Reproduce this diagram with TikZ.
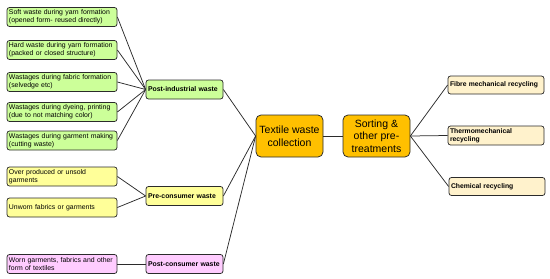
\documentclass[tikz,border=0pt]{standalone}
\usepackage{fontspec}
\setmainfont{Liberation Sans}
\usepackage{tikz}
\usetikzlibrary{positioning}
\definecolor{wgreen}{HTML}{CCFF99}
\definecolor{wyellow}{HTML}{FFFF99}
\definecolor{wpink}{HTML}{FFCCFF}
\definecolor{worange}{HTML}{FFC000}
\definecolor{wcream}{HTML}{FFF2CC}
\definecolor{wline}{HTML}{2B2B2B}
\hyphenpenalty=10000

\begin{document}
\begin{tikzpicture}[x=1pt, y=-1pt,
  box/.style={draw=wline, rounded corners=2.5pt, line width=0.75pt,
              minimum height=19pt, inner xsep=2pt, inner ysep=2pt, align=left,
              font=\fontsize{6.9}{8.2}\selectfont},
  src/.style={box, text width=106pt, minimum width=110pt},
  cat/.style={box, font=\fontsize{6.9}{8}\selectfont\bfseries,
              text width=73pt, minimum width=77pt},
  hub/.style={draw=wline, rounded corners=5pt, line width=0.75pt, fill=worange,
              minimum width=67pt, minimum height=42pt, align=center,
              font=\fontsize{10.5}{12.5}\selectfont},
  route/.style={box, fill=wcream, font=\fontsize{6.8}{8}\selectfont\bfseries,
                text width=92pt, minimum width=96pt, minimum height=18pt},
  link/.style={draw=wline, line width=0.75pt},
]
  \useasboundingbox (0,0) rectangle (550,279);

  % Post-industrial sources.
  \node[src, fill=wgreen] (soft) at (62,17)
    {Soft waste during yarn formation\\(opened form- reused directly)};
  \node[src, fill=wgreen] (hard) at (62,50)
    {Hard waste during yarn formation\\(packed or closed structure)};
  \node[src, fill=wgreen] (fabric) at (62,82)
    {Wastages during fabric formation\\(selvedge etc)};
  \node[src, fill=wgreen] (dyeing) at (62,112)
    {Wastages during dyeing, printing\\(due to not matching color)};
  \node[src, fill=wgreen] (garment) at (62,140.5)
    {Wastages during garment making\\(cutting waste)};
  \node[cat, fill=wgreen] (post-ind) at (184.5,89.5) {Post-industrial waste};
  \draw[link] (soft.east) -- (post-ind.west);
  \draw[link] (hard.east) -- (post-ind.west);
  \draw[link] (fabric.east) -- (post-ind.west);
  \draw[link] (dyeing.east) -- (post-ind.west);
  \draw[link] (garment.east) -- (post-ind.west);

  % Pre-consumer sources.
  \node[src, fill=wyellow] (unsold) at (62,176.5)
    {Over produced or unsold\\garments};
  \node[src, fill=wyellow] (unworn) at (62,207.5) {Unworn fabrics or garments};
  \node[cat, fill=wyellow] (pre-con) at (184.5,196) {Pre-consumer waste};
  \draw[link] (unsold.east) -- (pre-con.west);
  \draw[link] (unworn.east) -- (pre-con.west);

  % Post-consumer sources.
  \node[src, fill=wpink] (worn) at (62,264)
    {Worn garments, fabrics and other\\form of textiles};
  \node[cat, fill=wpink] (post-con) at (184.5,264) {Post-consumer waste};
  \draw[link] (worn.east) -- (post-con.west);

  % Collection and sorting.
  \node[hub] (collect) at (289.5,136) {Textile waste\\collection};
  \node[hub] (sorting) at (376.5,136) {Sorting \&\\other pre-\\treatments};
  \draw[link] (post-ind.east) -- (collect.west);
  \draw[link] (pre-con.east) -- (collect.west);
  \draw[link] (post-con.east) -- (collect.west);
  \draw[link] (collect.east) -- (sorting.west);

  % Recycling routes.
  \node[route] (fibre) at (496,85) {Fibre mechanical recycling};
  \node[route, minimum height=19pt] (thermo) at (496,135.5)
    {Thermomechanical\\recycling};
  \node[route] (chemical) at (497,186.5) {Chemical recycling};
  \draw[link] (sorting.east) -- (fibre.west);
  \draw[link] (sorting.east) -- (thermo.west);
  \draw[link] (sorting.east) -- (chemical.west);
\end{tikzpicture}
\end{document}
